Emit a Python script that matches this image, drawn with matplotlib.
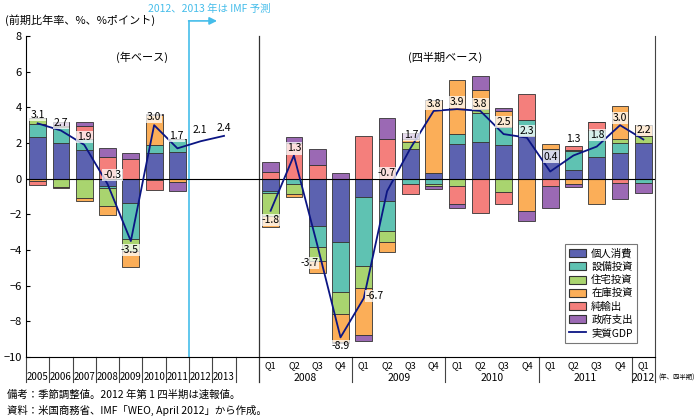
import numpy as np
import matplotlib
matplotlib.use("Agg")
import matplotlib.pyplot as plt
from matplotlib.patches import Patch
from matplotlib.lines import Line2D

plt.rcParams['font.family'] = ['Noto Sans CJK JP', 'DejaVu Sans']

# ── Data ──────────────────────────────────────────────────────────────────────
years = ["2005", "2006", "2007", "2008", "2009", "2010", "2011", "2012", "2013"]
quarters = ["Q1", "Q2", "Q3", "Q4"] * 4 + ["Q1"]
quarter_years = ["2008", "2009", "2010", "2011", "2012"]

components = ["個人消費", "設備投資", "住宅投資", "在庫投資", "純輸出", "政府支出"]

# annual contributions 2005-2011
ann_consumption = [2.35, 2.00, 1.60, -0.40, -1.36, 1.45, 1.50]
ann_capex       = [0.69, 0.90, 0.65, -0.10, -2.05, 0.41, 0.70]
ann_housing     = [0.37, -0.47, -1.06, -1.04, -0.65, -0.10, 0.05]
ann_inventory   = [-0.13, 0.05, -0.22, -0.50, -0.87, 1.73, -0.19]
ann_netexports  = [-0.24, -0.05, 0.69, 1.23, 1.12, -0.54, 0.00]
ann_government  = [0.00, 0.20, 0.24, 0.47, 0.34, 0.05, -0.50]
ann_gdp = [3.1, 2.7, 1.9, -0.3, -3.5, 3.0, 1.7, 2.1, 2.4]

# quarterly contributions Q1 2008 - Q1 2012
q_consumption = [-0.69, 0.00, -2.68, -3.54, -1.00, -1.28, 1.64, 0.34, 1.92, 2.05, 1.86, 2.42, 1.60, 0.47, 1.21, 1.45, 2.01]
q_capex       = [-0.09, -0.32, -1.17, -2.83, -3.91, -1.68, -0.32, -0.32, 0.56, 1.64, 1.02, 0.89, 0.09, 1.06, 1.53, 0.56, -0.22]
q_housing     = [-1.30, -0.52, -0.74, -1.21, -1.23, -0.58, 0.41, -0.09, -0.41, 0.19, -0.74, 0.00, 0.00, 0.09, 0.00, 0.22, 0.41]
q_inventory   = [-0.65, -0.17, -0.71, -1.58, -2.61, -0.56, 0.20, 4.06, 3.07, 1.08, 0.89, -1.81, 0.28, -0.28, -1.40, 1.82, 0.58]
q_netexports  = [0.37, 2.01, 0.78, -0.06, 2.42, 2.20, -0.56, 0.00, -0.99, -1.94, -0.69, 1.43, -0.41, 0.19, 0.41, -0.26, 0.00]
q_government  = [0.58, 0.34, 0.86, 0.34, -0.34, 1.21, 0.30, -0.19, -0.22, 0.78, 0.19, -0.56, -1.21, -0.19, 0.00, -0.86, -0.61]
q_gdp = [-1.8, 1.3, -3.7, -8.9, -6.7, -0.7, 1.7, 3.8, 3.9, 3.8, 2.5, 2.3, 0.4, 1.3, 1.8, 3.0, 2.2]

colors = ["#5C62B0", "#5FC2B2", "#A9D46F", "#FBAE58", "#F47F7C", "#9B69B4"]
gdp_color = "#0B1583"
imf_color = "#45BDEA"

# ── Layout of category slots ──────────────────────────────────────────────────
ann_x = np.arange(len(years))                 # 0..8
q_x = np.arange(10, 10 + len(q_gdp))          # 10..26
bar_x = np.concatenate([ann_x[:7], q_x])

series = [
    ann_consumption + q_consumption,
    ann_capex + q_capex,
    ann_housing + q_housing,
    ann_inventory + q_inventory,
    ann_netexports + q_netexports,
    ann_government + q_government,
]

fig = plt.figure(figsize=(7, 4.2), dpi=100)
ax = fig.add_axes([26 / 700, 1 - 357 / 420, 629 / 700, 321 / 420])

pos_bottom = np.zeros(len(bar_x))
neg_bottom = np.zeros(len(bar_x))
for vals, col in zip(series, colors):
    v = np.array(vals, dtype=float)
    bottom = np.where(v >= 0, pos_bottom, neg_bottom)
    ax.bar(bar_x, v, bottom=bottom, width=0.72, color=col,
           edgecolor="#333333", linewidth=0.6, zorder=2)
    pos_bottom += np.where(v >= 0, v, 0)
    neg_bottom += np.where(v < 0, v, 0)

ax.axhline(0, color="black", linewidth=0.8, zorder=3)

ax.plot(ann_x, ann_gdp, color=gdp_color, linewidth=1.3, zorder=4)
ax.plot(q_x, q_gdp, color=gdp_color, linewidth=1.3, zorder=4)

# label offsets in pixels (dx, dy); default is just above the point
ann_off = {3: (5, 9), 4: (-1, -9), 6: (-1, 12), 7: (-1, 11)}
q_off = {0: (0, -9), 2: (-8, -18), 3: (0, -9), 4: (11, 2), 5: (-1, 18),
         6: (1, 13), 10: (0, 12), 12: (1, 15), 13: (0, 16), 14: (1, 12), 16: (1, 9)}
box = dict(boxstyle="square,pad=0.1", fc="white", ec="none", alpha=0.75)
for i, (x, y) in enumerate(zip(ann_x, ann_gdp)):
    dx, dy = ann_off.get(i, (0, 8))
    ax.annotate(f"{y:.1f}", (x, y), xytext=(dx, dy), textcoords="offset pixels",
                ha="center", va="center", fontsize=7.5, bbox=box, zorder=5)
for i, (x, y) in enumerate(zip(q_x, q_gdp)):
    dx, dy = q_off.get(i, (0, 7))
    ax.annotate(f"{y:.1f}", (x, y), xytext=(dx, dy), textcoords="offset pixels",
                ha="center", va="center", fontsize=7.5, bbox=box, zorder=5)

# ── Axes styling ──────────────────────────────────────────────────────────────
ax.set_xlim(-0.5, 26.5)
ax.set_ylim(-10, 8)
ax.set_yticks(np.arange(-10, 9, 2))
ax.tick_params(axis="y", direction="in", length=3, labelsize=8, pad=3)
ax.set_xticks([])
ax.spines["top"].set_visible(False)
for s in ["left", "right", "bottom"]:
    ax.spines[s].set_linewidth(0.8)
ax.spines["right"].set_color("#444444")

tr = ax.get_xaxis_transform()
sep_low = -0.078
for b in list(np.arange(-0.5, 9.5, 1.0)) + [13.5, 17.5, 21.5, 25.5, 26.5]:
    ax.plot([b, b], [0, sep_low], transform=tr, color="#444444", linewidth=0.8, clip_on=False)
ax.plot([9.5, 9.5], [1, sep_low], transform=tr, color="#333333", linewidth=0.9, clip_on=False)

for x, lab in zip(ann_x, years):
    ax.text(x, -0.062, lab, transform=tr, ha="center", va="center", fontsize=7)
for x, lab in zip(q_x, quarters):
    ax.text(x, -0.028, lab, transform=tr, ha="center", va="center", fontsize=6.5)
for k, lab in enumerate(quarter_years):
    grp = q_x[4 * k:4 * k + 4]
    ax.text(grp.mean(), -0.066, lab, transform=tr, ha="center", va="center", fontsize=7.5)

# IMF forecast marker
ax.plot([6.5, 6.5], [0, 1.047], transform=tr, color=imf_color, linewidth=1.2, clip_on=False, zorder=1)
ax.annotate("", xy=(7.7, 1.047), xytext=(6.48, 1.047), xycoords=tr, textcoords=tr,
            arrowprops=dict(arrowstyle="-|>", color=imf_color, lw=1.2,
                            mutation_scale=11, shrinkA=0, shrinkB=0),
            annotation_clip=False)
fig.text(148 / 700, 1 - 9 / 420, "2012、2013 年は IMF 予測", color=imf_color,
         ha="left", va="center", fontsize=7.5)

# ── Legend ────────────────────────────────────────────────────────────────────
handles = [Patch(facecolor=c, edgecolor="#333333", linewidth=0.8, label=n)
           for c, n in zip(colors, components)]
handles.append(Line2D([0], [0], color=gdp_color, linewidth=1.3, label="実質GDP"))
leg = ax.legend(handles=handles, loc="lower right", bbox_to_anchor=(0.972, 0.045),
                fontsize=7.5, frameon=True, fancybox=False, edgecolor="#555555",
                handlelength=1.6, handleheight=0.8, labelspacing=0.3,
                borderpad=0.45, handletextpad=0.5, borderaxespad=0)
leg.get_frame().set_linewidth(0.8)

# ── Texts ─────────────────────────────────────────────────────────────────────
fig.text(5 / 700, 1 - 20 / 420, "(前期比年率、%、%ポイント)", ha="left", va="center", fontsize=8)
fig.text(142 / 700, 1 - 57 / 420, "(年ベース)", ha="center", va="center", fontsize=8)
fig.text(445 / 700, 1 - 57 / 420, "(四半期ベース)", ha="center", va="center", fontsize=8)
fig.text(658 / 700, 1 - 378 / 420, "(年、四半期)", ha="left", va="center", fontsize=4.6)
fig.text(7 / 700, 1 - 395 / 420, "備考：季節調整値。2012 年第 1 四半期は速報値。",
         ha="left", va="center", fontsize=7.5)
fig.text(7 / 700, 1 - 410 / 420, "資料：米国商務省、IMF「WEO, April 2012」から作成。",
         ha="left", va="center", fontsize=7.5)

fig.savefig("out.png", dpi=100)
